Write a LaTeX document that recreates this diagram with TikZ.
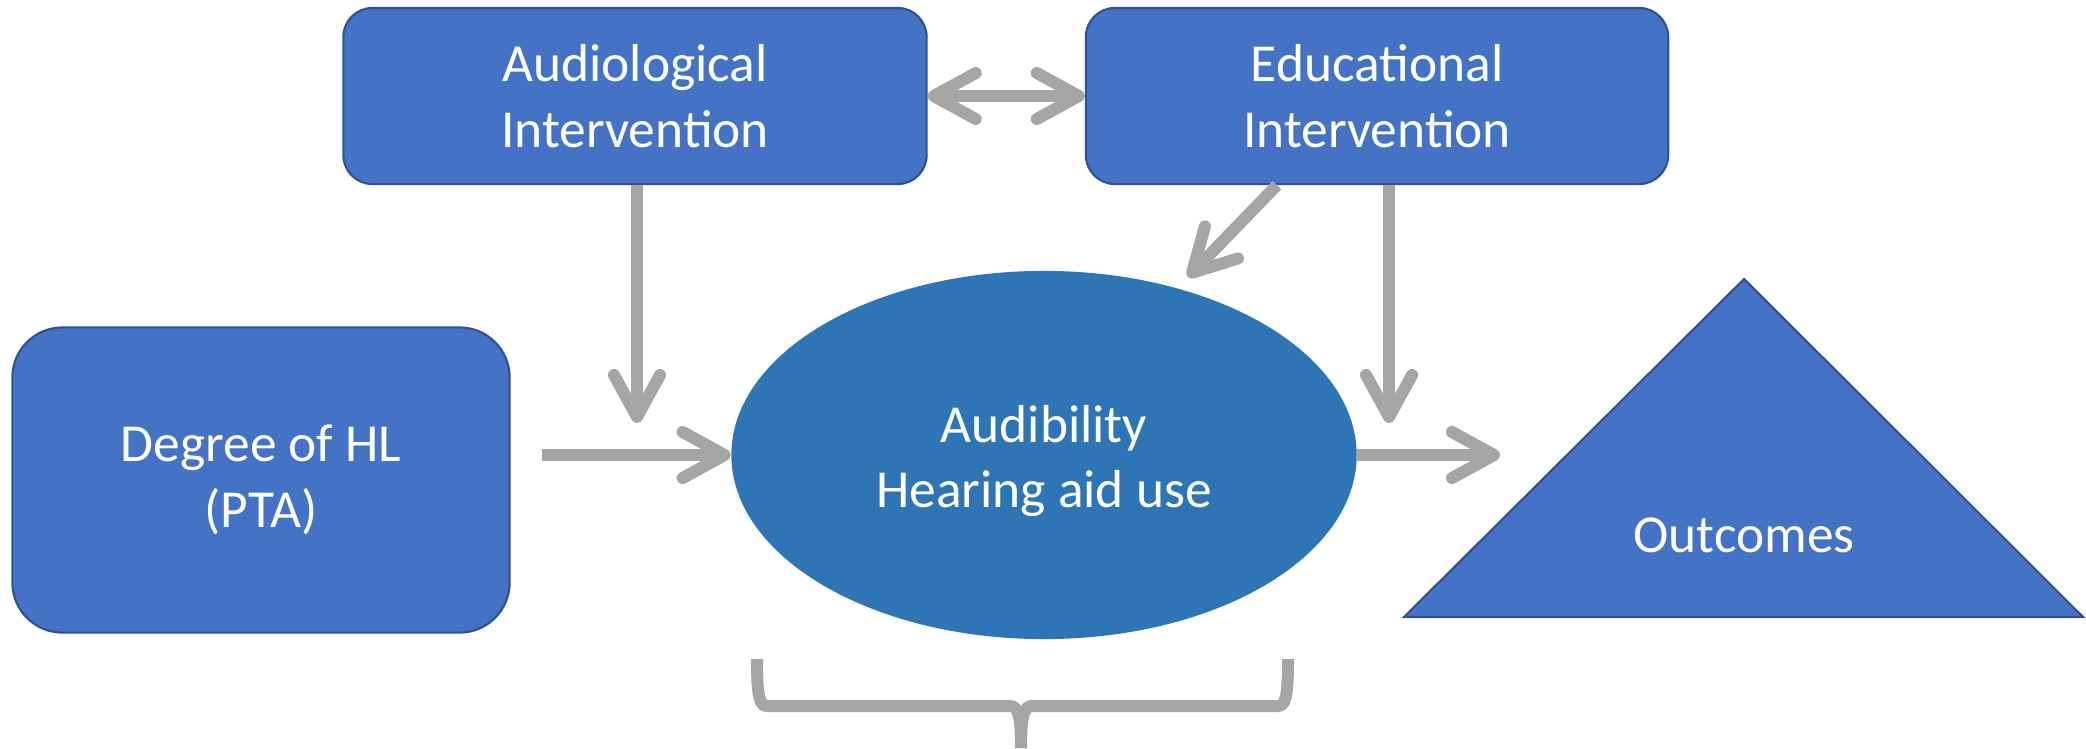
\documentclass[tikz,border=0pt]{standalone}
\usepackage{fontspec}
\setmainfont{Carlito}
\usetikzlibrary{arrows.meta, shapes.geometric, positioning}

\definecolor{boxblue}{HTML}{4472C4}
\definecolor{boxline}{HTML}{2F528F}
\definecolor{ellblue}{HTML}{2E75B6}
\definecolor{arrgray}{HTML}{A5A5A5}

\tikzset{barb/.tip={Straight Barb[length=0.42cm, width=0.46cm, round]}}

\begin{document}
\begin{tikzpicture}[x=0.01cm, y=-0.01cm,
    every node/.style={text=white, align=center, font=\fontsize{15.2}{18.6}\selectfont},
    box/.style={draw=boxline, line width=0.6pt, fill=boxblue, inner sep=0pt},
    link/.style={draw=arrgray, line width=0.12cm, -barb}]
  \useasboundingbox (0,0) rectangle (2086,748);

  % boxes
  \node[box, rounded corners=0.29cm, minimum width=5.83cm, minimum height=1.76cm] (aud) at (635,96) {Audiological\\Intervention};
  \node[box, rounded corners=0.29cm, minimum width=5.82cm, minimum height=1.76cm] (edu) at (1377,96) {Educational\\Intervention};
  \node[box, rounded corners=0.5cm, minimum width=4.97cm, minimum height=3.05cm] (deg) at (261,480) {Degree of HL\\(PTA)};
  \node[ellipse, fill=ellblue, minimum width=6.25cm, minimum height=3.68cm, inner sep=0pt] (ell) at (1044,455) {};
  \node[yshift=-0.06cm] (elltext) at (ell) {Audibility\\Hearing aid use};

  % outcomes triangle
  \draw[draw=boxline, line width=0.6pt, fill=boxblue] (1744,279) coordinate (outtop) -- (2083,617) -- (1404,617) -- cycle;
  \node (out) at (1744,535) {Outcomes};

  % arrows
  \coordinate (audend) at (637,423);
  \coordinate (eduend) at (1389,423);
  \coordinate (edudiag) at (1188,277);
  \coordinate (outtip) at (1500,455);
  \draw[link, barb-barb] (aud) -- (edu);
  \draw[link] (aud.south -| audend) -- (audend);
  \draw[link] (edu.south -| eduend) -- (eduend);
  \draw[link] ([xshift=-1cm]edu.south) -- (edudiag);
  \draw[link] ([xshift=0.31cm]deg.east |- ell.west) -- (ell.west);
  \draw[link] (ell.east) -- (outtip);

  % brace under the ellipse
  \draw[arrgray, line width=0.12cm]
    (757,659) .. controls (757,700) and (760,706) .. (768,706) -- (1010,706)
    .. controls (1018,706) and (1021,716) .. (1021,748);
  \draw[arrgray, line width=0.12cm]
    (1288,659) .. controls (1288,700) and (1285,706) .. (1277,706) -- (1032,706)
    .. controls (1024,706) and (1021,716) .. (1021,748);
\end{tikzpicture}
\end{document}
